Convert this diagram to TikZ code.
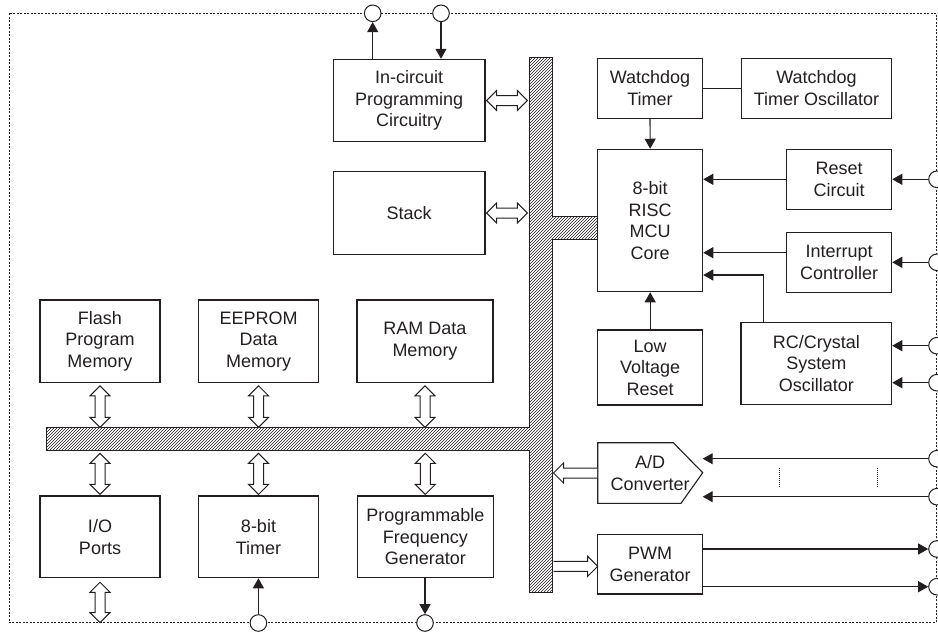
\documentclass[tikz,border=0pt]{standalone}
\usepackage{fontspec}
\setmainfont{Liberation Sans}
\usetikzlibrary{arrows.meta,calc,patterns}
\definecolor{ink}{RGB}{35,31,32}
\newcommand\fs{\fontsize{18}{21.5}\selectfont}
\newcommand\dblarrow[2]{%
 \draw[hollow] (#1) -- ($(#1)!10pt!(#2)!10pt!90:(#2)$) -- ($(#1)!10pt!(#2)!5pt!90:(#2)$)
  -- ($(#2)!10pt!(#1)!5pt!-90:(#1)$) -- ($(#2)!10pt!(#1)!10pt!-90:(#1)$) -- (#2)
  -- ($(#2)!10pt!(#1)!10pt!90:(#1)$) -- ($(#2)!10pt!(#1)!5pt!90:(#1)$)
  -- ($(#1)!10pt!(#2)!5pt!-90:(#2)$) -- ($(#1)!10pt!(#2)!10pt!-90:(#2)$) -- cycle;}
\newcommand\sglarrow[2]{%
 \draw[hollow] ($(#1)!5pt!90:(#2)$) -- ($(#2)!10pt!(#1)!5pt!-90:(#1)$)
  -- ($(#2)!10pt!(#1)!10pt!-90:(#1)$) -- (#2) -- ($(#2)!10pt!(#1)!10pt!90:(#1)$)
  -- ($(#2)!10pt!(#1)!5pt!90:(#1)$) -- ($(#1)!5pt!-90:(#2)$);}
\begin{document}
\begin{tikzpicture}[x=1pt,y=-1pt,
  box/.style={draw=ink, line width=1.1pt, fill=white, align=center, inner sep=0pt, font=\fs, text=ink},
  arr/.style={draw=ink, line width=1.1pt, -{Triangle[length=10pt,width=11pt]}},
  plain/.style={draw=ink, line width=1.1pt},
  hollow/.style={draw=ink, fill=white, line width=1pt, line join=miter},
  pinc/.style={circle, draw=ink, fill=white, line width=1pt, minimum size=16.6pt, inner sep=0pt},
  frame/.style={draw=ink, line width=0.9pt, dash pattern=on 2pt off 1.5pt},
  dots/.style={draw=ink, line width=0.7pt, dash pattern=on 1pt off 1pt}]
\useasboundingbox (0,0) rectangle (938,632);
% frame
\draw[frame] (9.3,13.3) rectangle (936,622.7);
% bus
\draw[ink, line width=1pt, pattern=north east lines, pattern color=ink]
  (529.3,57.7) -- (552.7,57.7) -- (552.7,216) -- (597.7,216) -- (597.7,239.3)
  -- (552.7,239.3) -- (552.7,592.7) -- (529.3,592.7) -- (529.3,450.7)
  -- (46.7,450.7) -- (46.7,427.3) -- (529.3,427.3) -- cycle;
% boxes
\node[box, minimum width=120pt, minimum height=82.3pt] (flash) at (100,341.15) {Flash\\Program\\Memory};
\node[box, minimum width=120pt, minimum height=82.3pt] (eeprom) at (258.6,341.15) {EEPROM\\Data\\Memory};
\node[box, minimum width=136pt, minimum height=82.3pt] (ram) at (425,341.15) {RAM Data\\Memory};
\node[box, minimum width=120pt, minimum height=81.7pt] (io) at (100,536.85) {I/O\\Ports};
\node[box, minimum width=119.6pt, minimum height=81.7pt] (timer) at (258.5,536.85) {8-bit\\Timer};
\node[box, minimum width=136pt, minimum height=81.7pt] (pfg) at (425.3,536.85) {Programmable\\Frequency\\Generator};
\node[box, minimum width=151.7pt, minimum height=82.4pt] (icp) at (409.15,100.5) {In-circuit\\Programming\\Circuitry};
\node[box, minimum width=151.7pt, minimum height=82.6pt] (stack) at (409.15,213) {Stack};
\node[box, minimum width=105.4pt, minimum height=60pt] (wdt) at (650,88.3) {Watchdog\\Timer};
\node[box, minimum width=150.4pt, minimum height=60pt] (wdto) at (816.5,88.3) {Watchdog\\Timer Oscillator};
\node[box, minimum width=105pt, minimum height=142.4pt] (core) at (650.2,220.5) {8-bit\\RISC\\MCU\\Core};
\node[box, minimum width=105pt, minimum height=60pt] (reset) at (839.2,179.3) {Reset\\Circuit};
\node[box, minimum width=105pt, minimum height=59.6pt] (intc) at (839.2,262.5) {Interrupt\\Controller};
\node[box, minimum width=105pt, minimum height=75pt] (lvr) at (650.2,367.5) {Low\\Voltage\\Reset};
\node[box, minimum width=150.7pt, minimum height=81.6pt] (rc) at (816.35,363.5) {RC/Crystal\\System\\Oscillator};
\node[box, minimum width=105pt, minimum height=59.7pt] (pwm) at (650.2,564.15) {PWM\\Generator};
% A/D converter
\draw[plain, line join=miter, fill=white] (597.7,442.7) -- (673.3,442.7) -- (702.7,472.7) -- (681,503.3) -- (597.7,503.3) -- cycle;
\node[box, draw=none, fill=none, minimum width=105pt, minimum height=60.6pt] (ad) at (650.2,473) {A/D\\Converter};
% pins
\node[pinc] (pT1) at (372.7,13.3) {};
\node[pinc] (pT2) at (441,13.3) {};
\node[pinc] (pB1) at (258.4,623) {};
\node[pinc] (pB2) at (425,623) {};
\node[pinc] (pR1) at (937,179.3) {};
\node[pinc] (pR2) at (937,262.3) {};
\node[pinc] (pR3) at (937,345.7) {};
\node[pinc] (pR4) at (937,382.7) {};
\node[pinc] (pR5) at (937,458.7) {};
\node[pinc] (pR6) at (937,496.7) {};
\node[pinc] (pR7) at (937,549) {};
\node[pinc] (pR8) at (937,586.7) {};
% control connectors
\draw[arr] (icp.north -| pT1) -- (pT1.south);
\draw[arr] (pT2.south) -- (icp.north -| pT2);
\draw[plain] (wdt.east) -- (wdto.west);
\draw[arr] (wdt.south) -- (core.north);
\draw[arr] (reset.west) -- (reset.west -| core.east);
\draw[arr] ([yshift=9.8pt]intc.west) -- ([yshift=9.8pt]intc.west -| core.east);
\draw[arr] ([xshift=23.3pt]rc.north west) |- (core.east |- 0,275);
\draw[arr] (lvr.north) -- (core.south);
\draw[arr] (pR1.west) -- (pR1.west -| reset.east);
\draw[arr] (pR2.west) -- (pR2.west -| intc.east);
\draw[arr] (pR3.west) -- (pR3.west -| rc.east);
\draw[arr] (pR4.west) -- (pR4.west -| rc.east);
\coordinate (adi1) at (702.7,458.7);
\coordinate (adi2) at (702.7,496.7);
\draw[arr] (pR5.west) -- (adi1);
\draw[arr] (pR6.west) -- (adi2);
\draw[dots] (779.3,468) -- (779.3,488);
\draw[dots] (877.3,468) -- (877.3,488);
\draw[arr] (pR7.west -| pwm.east) -- (pR7.west);
\draw[arr] (pR8.west -| pwm.east) -- (pR8.west);
\draw[arr] (pB1.north) -- (pB1.north |- timer.south);
\draw[arr] (pB2.north |- pfg.south) -- (pB2.north);
% hollow bus arrows
\coordinate (u1a) at ([yshift=-3pt]flash.south); \coordinate (u1b) at (flash.south |- 0,427.3);
\coordinate (u2a) at ([yshift=-3pt]eeprom.south); \coordinate (u2b) at (eeprom.south |- 0,427.3);
\coordinate (u3a) at ([yshift=-3pt]ram.south); \coordinate (u3b) at (ram.south |- 0,427.3);
\dblarrow{u1a}{u1b}\dblarrow{u2a}{u2b}\dblarrow{u3a}{u3b}
\coordinate (l1a) at (io.north |- 0,453.3); \coordinate (l1b) at ([yshift=1pt]io.north);
\coordinate (l2a) at (timer.north |- 0,453.3); \coordinate (l2b) at ([yshift=1pt]timer.north);
\coordinate (l3a) at (pfg.north |- 0,453.3); \coordinate (l3b) at ([yshift=1pt]pfg.north);
\dblarrow{l1a}{l1b}\dblarrow{l2a}{l2b}\dblarrow{l3a}{l3b}
\coordinate (ioa) at ([yshift=-4pt]io.south); \coordinate (iob) at (io.south |- 0,622.7);
\dblarrow{ioa}{iob}
\coordinate (icpa) at ([xshift=1pt]icp.east); \coordinate (icpb) at (icp.east -| 527.3,0);
\dblarrow{icpa}{icpb}
\coordinate (sta) at ([xshift=1pt]stack.east); \coordinate (stb) at (stack.east -| 527.3,0);
\dblarrow{sta}{stb}
\coordinate (ada) at (ad.west); \coordinate (adb) at (553.5,473);
\sglarrow{ada}{adb}
\coordinate (pwa) at (553.5,566.3); \coordinate (pwb) at (597.7,566.3);
\sglarrow{pwa}{pwb}
\end{tikzpicture}
\end{document}
